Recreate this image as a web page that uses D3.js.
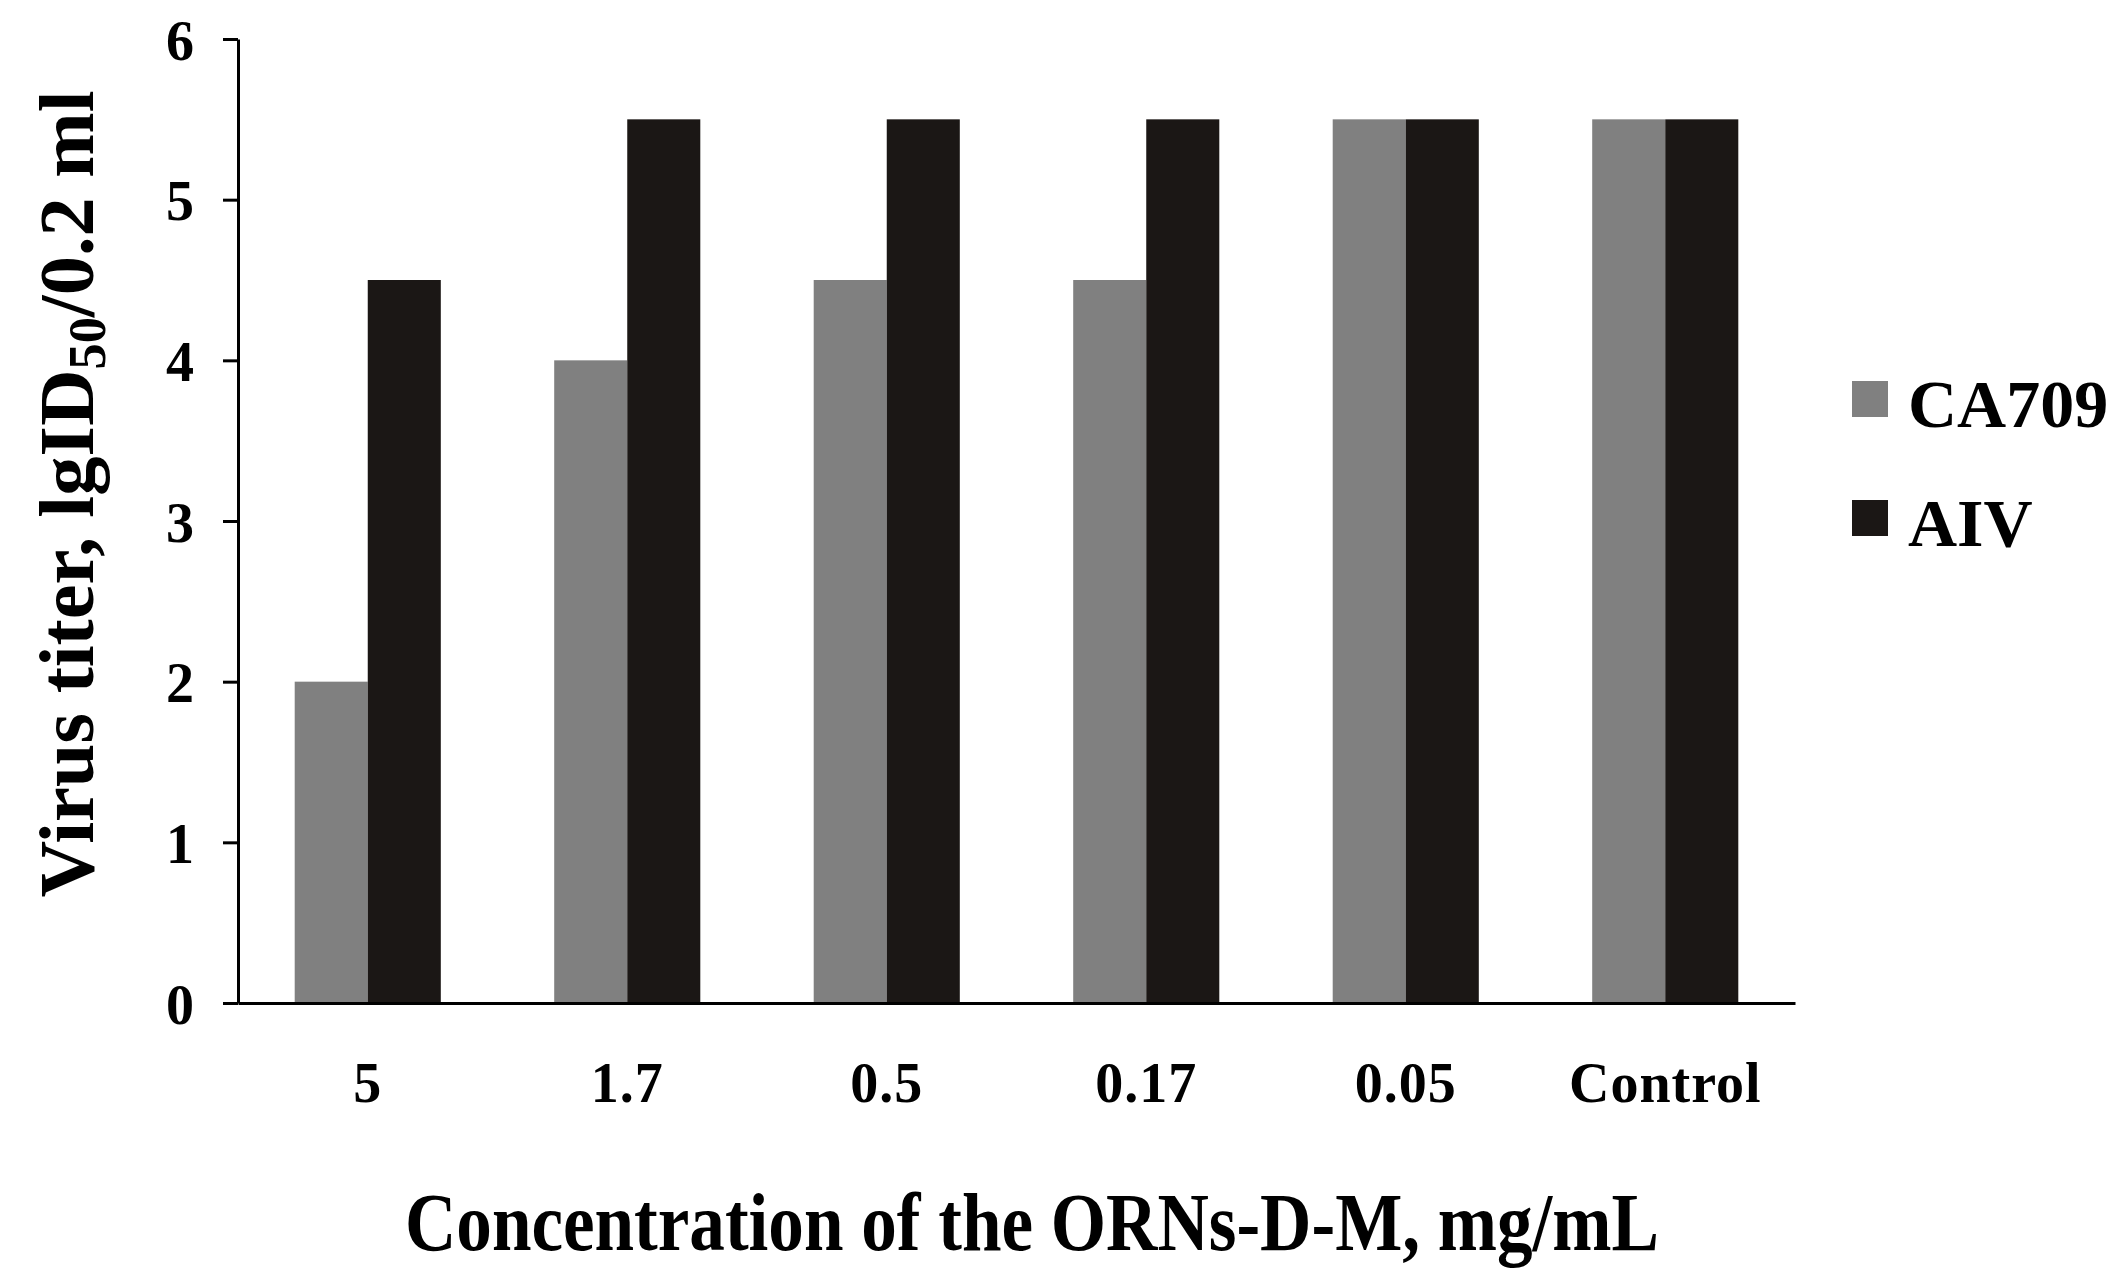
<!DOCTYPE html>
<html>
<head>
<meta charset="utf-8">
<script src="https://cdn.jsdelivr.net/npm/d3@7"></script>
<style>
  body { margin: 0; background: #fff; }
  svg { display: block; font-family: "Liberation Serif", "Times New Roman", serif; font-weight: bold; }
</style>
</head>
<body>
<svg id="chart" width="2120" height="1280"></svg>
<script>
const categories = ["5", "1.7", "0.5", "0.17", "0.05", "Control"];
const seriesNames = ["CA709", "AIV"];
const ca709 = [2, 4, 4.5, 4.5, 5.5, 5.5];
const aiv = [4.5, 5.5, 5.5, 5.5, 5.5, 5.5];
const yTicks = [0, 1, 2, 3, 4, 5, 6];
const colors = ["#808080", "#1b1715"];

const data = categories.map((c, i) => ({ cat: c, values: [ca709[i], aiv[i]] }));

const svg = d3.select("#chart");
const plotLeft = 238, plotRight = 1795, plotTop = 39, plotBottom = 1003;

const x0 = d3.scaleBand()
  .domain(categories)
  .range([plotLeft, plotRight])
  .paddingInner(0.437)
  .paddingOuter(0.2185);

const x1 = d3.scaleBand()
  .domain(seriesNames)
  .range([0, x0.bandwidth()]);

const y = d3.scaleLinear().domain([0, 6]).range([plotBottom, plotTop]);

// bars
const groups = svg.append("g")
  .selectAll("g")
  .data(data)
  .join("g")
  .attr("transform", (d) => `translate(${x0(d.cat)},0)`);

groups.selectAll("rect")
  .data((d) => d.values.map((v, j) => ({ name: seriesNames[j], v, j })))
  .join("rect")
  .attr("x", (d) => x1(d.name))
  .attr("width", x1.bandwidth())
  .attr("y", (d) => y(d.v))
  .attr("height", (d) => y(0) - y(d.v))
  .attr("fill", (d) => colors[d.j]);

// y axis
const yAxis = svg.append("g")
  .attr("transform", `translate(${plotLeft},0)`)
  .call(d3.axisLeft(y).tickValues(yTicks).tickSize(15).tickSizeOuter(0).tickPadding(29).tickFormat(d3.format("d")));
yAxis.selectAll("path, line").attr("stroke", "#000").attr("stroke-width", 3);
yAxis.selectAll("text")
  .attr("font-size", 56)
  .attr("font-family", "Liberation Serif")
  .attr("font-weight", "bold")
  .attr("fill", "#000")
  .attr("dy", "0.36em");

// x axis
const xAxis = svg.append("g")
  .attr("transform", `translate(0,${plotBottom})`)
  .call(d3.axisBottom(x0).tickSize(0).tickSizeOuter(0).tickPadding(59));
xAxis.select("path").attr("stroke", "#000").attr("stroke-width", 3);
xAxis.selectAll("text")
  .attr("font-size", 56)
  .attr("font-family", "Liberation Serif")
  .attr("font-weight", "bold")
  .attr("fill", "#000")
  .attr("letter-spacing", 1);

// axis titles
svg.append("text")
  .attr("x", 1032)
  .attr("y", 1250)
  .attr("text-anchor", "middle")
  .attr("font-size", 82)
  .attr("textLength", 1254)
  .attr("lengthAdjust", "spacingAndGlyphs")
  .text("Concentration of the ORNs-D-M, mg/mL");

const yTitle = svg.append("text")
  .attr("transform", "translate(93,494) rotate(-90)")
  .attr("text-anchor", "middle")
  .attr("font-size", 78)
  .attr("textLength", 807)
  .attr("lengthAdjust", "spacingAndGlyphs");
yTitle.append("tspan").text("Virus titer,  lgID");
yTitle.append("tspan").attr("font-size", 52).attr("dy", 12).text("50");
yTitle.append("tspan").attr("dy", -12).text("/0.2 ml");

// legend
const legend = svg.append("g")
  .selectAll("g")
  .data(seriesNames)
  .join("g")
  .attr("transform", (d, i) => `translate(1852,${381 + i * 119})`);
legend.append("rect")
  .attr("width", 36)
  .attr("height", 36)
  .attr("fill", (d, i) => colors[i]);
legend.append("text")
  .attr("x", 56)
  .attr("y", 46)
  .attr("font-size", 68)
  .attr("fill", "#000")
  .text((d) => d);
</script>
</body>
</html>
